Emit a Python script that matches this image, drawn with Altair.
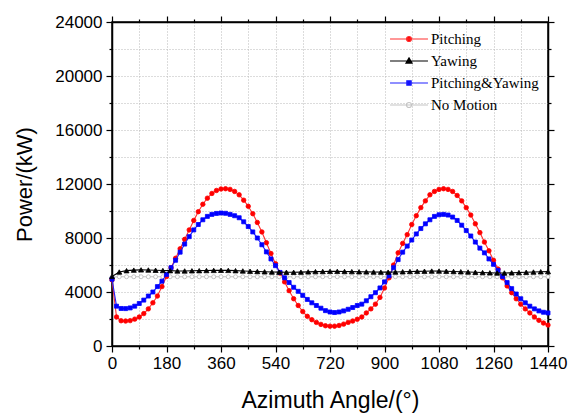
import altair as alt
import pandas as pd

# ---------------- data ----------------
angles_15 = list(range(0, 1441, 15))
angles_24 = list(range(0, 1441, 24))

pitching = [
    4900, 2150, 1870, 1850, 1880, 1990, 2150, 2400, 2750, 3200,
    3700, 4400, 5150, 5800, 6500, 7200, 7900, 8600, 9300, 9950,
    10500, 10950, 11300, 11520, 11630, 11650, 11600, 11450, 11200, 10800,
    10350, 9800, 9150, 8450, 7650, 6850, 6100, 5400, 4750, 4100,
    3500, 3000, 2550, 2200, 1950, 1750, 1600, 1500, 1470, 1470,
    1520, 1620, 1750, 1850, 1980, 2150, 2450, 2750, 3100, 3600,
    4300, 5050, 6000, 6900, 7600, 8250, 9000, 9650, 10250, 10750,
    11200, 11450, 11600, 11650, 11600, 11450, 11150, 10750, 10250, 9700,
    9050, 8400, 7700, 7050, 6350, 5700, 5050, 4450, 3950, 3500,
    3100, 2750, 2450, 2150, 1900, 1700, 1550,
]

pitch_yaw = [
    4950, 2950, 2780, 2770, 2820, 2950, 3150, 3400, 3700, 4000,
    4400, 4800, 5300, 5800, 6350, 6950, 7550, 8100, 8600, 9000,
    9350, 9600, 9750, 9820, 9850, 9830, 9750, 9650, 9500, 9200,
    8850, 8450, 8000, 7500, 6970, 6450, 5950, 5450, 5050, 4700,
    4350, 4050, 3750, 3450, 3200, 3000, 2800, 2620, 2520, 2480,
    2520, 2600, 2720, 2850, 3000, 3100, 3350, 3650, 3950, 4300,
    4750, 5200, 5800, 6400, 6950, 7400, 7850, 8300, 8700, 9050,
    9350, 9600, 9720, 9750, 9700, 9550, 9300, 8950, 8550, 8150,
    7700, 7250, 6900, 6450, 6050, 5600, 5150, 4700, 4250, 3850,
    3500, 3200, 2950, 2750, 2600, 2500, 2450,
]

yawing = [
    5150, 5480, 5580, 5620, 5640, 5630, 5610, 5590, 5580, 5560,
    5560, 5570, 5580, 5590, 5600, 5610, 5600, 5580, 5560, 5540,
    5520, 5500, 5480, 5470, 5460, 5460, 5470, 5490, 5510, 5520,
    5530, 5530, 5520, 5510, 5500, 5490, 5480, 5470, 5470, 5480,
    5500, 5520, 5530, 5540, 5550, 5550, 5540, 5520, 5500, 5480,
    5460, 5440, 5420, 5410, 5410, 5420, 5440, 5460, 5480, 5500,
    5510,
]

no_motion = [
    5100, 5130, 5130, 5130, 5130, 5130, 5130, 5130, 5130, 5130,
    5130, 5130, 5130, 5130, 5130, 5130, 5130, 5130, 5130, 5130,
    5130, 5130, 5130, 5130, 5130, 5130, 5130, 5130, 5130, 5130,
    5130, 5130, 5130, 5130, 5130, 5130, 5130, 5130, 5130, 5130,
    5130, 5130, 5130, 5130, 5130, 5130, 5130, 5130, 5130, 5130,
    5130, 5130, 5130, 5130, 5130, 5130, 5130, 5130, 5130, 5130,
    5130,
]

series_names = ["Pitching", "Yawing", "Pitching&Yawing", "No Motion"]
line_colors = ["#ff3030", "#000000", "#2020ff", "#c4c4c4"]
marker_fills = ["#ff0000", "#000000", "#0000ff", "#ffffff"]

x_ticks = list(range(0, 1441, 90))
y_ticks = list(range(0, 24001, 2000))

# ---------------- tables ----------------
frames = []
for name, xs, ys in [
    ("Pitching", angles_15, pitching),
    ("Yawing", angles_24, yawing),
    ("Pitching&Yawing", angles_15, pitch_yaw),
    ("No Motion", angles_24, no_motion),
]:
    frames.append(pd.DataFrame({"angle": xs, "power": ys, "series": name}))
df = pd.concat(frames, ignore_index=True)

xscale = alt.Scale(domain=[0, 1440], nice=False, zero=False)
yscale = alt.Scale(domain=[0, 24000], nice=False)

FONT = "Liberation Sans"
major_x = "datum.value % 180 == 0"
major_y = "datum.value % 4000 == 0"

x_axis = alt.Axis(
    values=x_ticks, format="d",
    labelExpr=f"{major_x} ? datum.label : ''",
    tickSize={"condition": {"test": major_x, "value": 6}, "value": 3},
    grid=True, gridDash=[1, 2], gridColor="#b8b8b8", gridWidth=1,
    title="Azimuth Angle/(°)", titleFont=FONT, titleFontSize=23,
    titleFontWeight="normal", titleColor="black", titlePadding=18,
    labelFont=FONT, labelFontSize=17, labelColor="black", labelPadding=3,
    domainColor="black", domainWidth=1.5, tickColor="black", tickWidth=1.2,
    labelOverlap=False, labelFlush=False,
)
y_axis = alt.Axis(
    values=y_ticks, format="d",
    labelExpr=f"{major_y} ? datum.label : ''",
    tickSize={"condition": {"test": major_y, "value": 6}, "value": 3},
    grid=True, gridDash=[1, 2], gridColor="#b8b8b8", gridWidth=1,
    title="Power/(kW)", titleFont=FONT, titleFontSize=22,
    titleFontWeight="normal", titleColor="black", titlePadding=18,
    labelFont=FONT, labelFontSize=17, labelColor="black", labelPadding=4,
    domainColor="black", domainWidth=1.5, tickColor="black", tickWidth=1.2,
    labelOverlap=False, labelFlush=False,
)
top_axis = alt.Axis(
    orient="top", values=x_ticks, labels=False, title=None, grid=False,
    tickSize={"condition": {"test": major_x, "value": 6}, "value": 3},
    domainColor="black", domainWidth=1.5, tickColor="black", tickWidth=1.2,
)
right_axis = alt.Axis(
    orient="right", values=y_ticks, labels=False, title=None, grid=False,
    tickSize={"condition": {"test": major_y, "value": 6}, "value": 3},
    domainColor="black", domainWidth=1.5, tickColor="black", tickWidth=1.2,
)


def line(name, color, axes=False):
    d = df[df["series"] == name]
    return alt.Chart(d).mark_line(strokeWidth=1.1, color=color).encode(
        x=alt.X("angle:Q", scale=xscale, axis=x_axis if axes else None),
        y=alt.Y("power:Q", scale=yscale, axis=y_axis if axes else None),
    )


def pts(name, shape, size, fill, stroke, axes=False):
    d = df[df["series"] == name]
    return alt.Chart(d).mark_point(
        shape=shape, size=size, filled=True, fill=fill, stroke=stroke,
        strokeWidth=0.8, opacity=1,
    ).encode(
        x=alt.X("angle:Q", scale=xscale, axis=top_axis if axes else None),
        y=alt.Y("power:Q", scale=yscale, axis=right_axis if axes else None),
    )


red_line = line("Pitching", line_colors[0], axes=True)
black_line = line("Yawing", line_colors[1])
blue_line = line("Pitching&Yawing", line_colors[2])
gray_line = line("No Motion", line_colors[3])

gray_pts = pts("No Motion", "circle", 16, "#ffffff", "#b5b5b5")
red_pts = pts("Pitching", "circle", 20, "#ff0000", "#ff0000", axes=True)
blue_pts = pts("Pitching&Yawing", "square", 16, "#0000ff", "#0000ff")
black_pts = pts("Yawing", "triangle-up", 26, "#000000", "#000000")

legend_shapes = [
    "M-2.71,0H2.71M0.36,0A0.36,0.36 0 1,1 -0.36,0A0.36,0.36 0 1,1 0.36,0Z",
    "M-2.71,0H2.71M0,-0.45L0.43,0.3L-0.43,0.3Z",
    "M-2.71,0H2.71M-0.31,-0.31H0.31V0.31H-0.31Z",
    "M-2.71,0H2.71M0.36,0A0.36,0.36 0 1,1 -0.36,0A0.36,0.36 0 1,1 0.36,0Z",
]
leg = alt.Legend(
    orient="none", legendX=289, legendY=9, title=None, padding=0,
    labelFont="Liberation Serif", labelFontSize=15, labelColor="black",
    symbolSize=196, symbolStrokeWidth=1.2, labelOffset=14, rowPadding=6,
    symbolOpacity=1,
)
legend_layer = alt.Chart(df).transform_filter("false").mark_point(
    filled=False, opacity=1, strokeWidth=1.2
).encode(
    color=alt.Color("series:N", scale=alt.Scale(domain=series_names, range=line_colors), legend=leg),
    fill=alt.Fill("series:N", scale=alt.Scale(domain=series_names, range=marker_fills), legend=leg),
    shape=alt.Shape("series:N", scale=alt.Scale(domain=series_names, range=legend_shapes), legend=leg),
)

chart = alt.layer(
    red_line, gray_line, gray_pts, red_pts, blue_line, blue_pts,
    black_line, black_pts, legend_layer
).resolve_axis(x="independent", y="independent").properties(
    width=436, height=324,
    autosize=alt.AutoSizeParams(type="none"),
    padding={"left": 112, "top": 22, "right": 22, "bottom": 70},
    background="white",
).configure_view(stroke="black", strokeWidth=1.5)

chart.save("out.html", embed_options={"renderer": "svg", "actions": False})
